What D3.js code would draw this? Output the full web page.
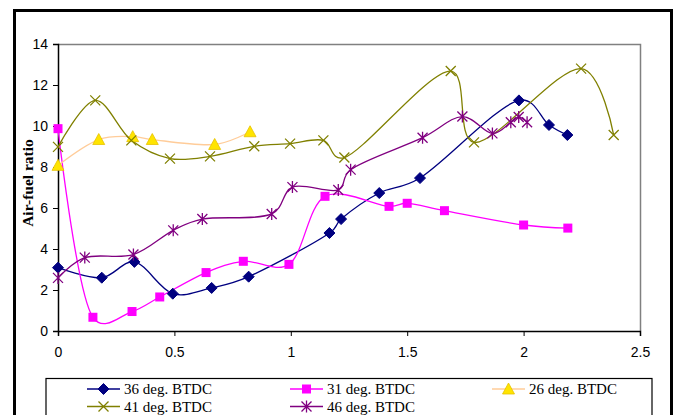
<!DOCTYPE html>
<html>
<head>
<meta charset="utf-8">
<script src="https://cdn.jsdelivr.net/npm/d3@7"></script>
<style>
  body { margin: 0; background: #fff; }
  svg { display: block; }
</style>
</head>
<body>
<div id="chart"></div>
<script>
// values
const x36 = [0, 0.188, 0.328, 0.493, 0.66, 0.819, 1.166, 1.216, 1.38, 1.555, 1.98, 2.109, 2.188];
const y36 = [3.09, 2.6, 3.37, 1.82, 2.1, 2.65, 4.78, 5.46, 6.73, 7.46, 11.25, 10.05, 9.56];

const x31 = [0, 0.15, 0.318, 0.437, 0.636, 0.796, 0.992, 1.147, 1.422, 1.5, 1.66, 2.0, 2.19];
const y31 = [9.87, 0.67, 0.95, 1.66, 2.85, 3.4, 3.25, 6.57, 6.08, 6.23, 5.87, 5.17, 5.02];

const x26 = [0, 0.175, 0.321, 0.405, 0.673, 0.825];
const y26 = [8.08, 9.34, 9.48, 9.34, 9.1, 9.72];

const x41 = [0, 0.16, 0.315, 0.481, 0.653, 0.843, 0.997, 1.14, 1.23, 1.687, 1.787, 2.247, 2.387];
const y41 = [8.98, 11.25, 9.3, 8.41, 8.52, 9.01, 9.14, 9.3, 8.46, 12.68, 9.2, 12.8, 9.56];

const x46 = [0, 0.115, 0.324, 0.495, 0.62, 0.918, 1.007, 1.204, 1.257, 1.566, 1.737, 1.866, 1.945, 1.979, 2.015];
const y46 = [2.59, 3.58, 3.73, 4.91, 5.46, 5.71, 7.02, 6.88, 7.87, 9.43, 10.46, 9.64, 10.18, 10.44, 10.18];

const xTicks = [0, 0.5, 1, 1.5, 2, 2.5];
const yTicks = [0, 2, 4, 6, 8, 10, 12, 14];

const series = [
  { name: "36 deg. BTDC", xs: x36, ys: y36, line: "#000080", marker: "diamond", fill: "#000080" },
  { name: "31 deg. BTDC", xs: x31, ys: y31, line: "#FF00FF", marker: "square", fill: "#FF00FF" },
  { name: "26 deg. BTDC", xs: x26, ys: y26, line: "#FFCC99", marker: "triangle", fill: "#FFE400" },
  { name: "41 deg. BTDC", xs: x41, ys: y41, line: "#808000", marker: "x", fill: "#808000" },
  { name: "46 deg. BTDC", xs: x46, ys: y46, line: "#800080", marker: "star", fill: "#800080" }
];

const W = 677, H = 415;
const plot = { left: 58, right: 640, top: 44, bottom: 331 };

const svg = d3.select("#chart").append("svg")
  .attr("width", W)
  .attr("height", H);

// outer chart frame
svg.append("rect")
  .attr("x", 14.5).attr("y", 10.5)
  .attr("width", 657).attr("height", 440)
  .attr("fill", "#fff")
  .attr("stroke", "#000")
  .attr("stroke-width", 3);

const x = d3.scaleLinear().domain([0, 2.5]).range([plot.left, plot.right]);
const y = d3.scaleLinear().domain([0, 14]).range([plot.bottom, plot.top]);

// plot area border (grey top/right)
svg.append("path")
  .attr("d", `M${plot.left},${plot.top + 0.5}H${plot.right + 0.5}V${plot.bottom}`)
  .attr("fill", "none")
  .attr("stroke", "#808080")
  .attr("stroke-width", 1.5);

const xAxis = svg.append("g")
  .attr("transform", `translate(0,${plot.bottom})`)
  .call(d3.axisBottom(x).tickValues(xTicks).tickFormat(d3.format("")).tickSizeOuter(0).tickSize(5).tickPadding(11));
const yAxis = svg.append("g")
  .attr("transform", `translate(${plot.left},0)`)
  .call(d3.axisLeft(y).tickValues(yTicks).tickSizeOuter(0).tickSize(5).tickPadding(5));

[xAxis, yAxis].forEach(a => {
  a.select(".domain").attr("stroke", "#000").attr("stroke-width", 1.5);
  a.selectAll(".tick line").attr("stroke", "#000");
  a.selectAll("text")
    .attr("fill", "#000")
    .style("font-family", "Arial, 'Liberation Sans', sans-serif")
    .style("font-size", "14px");
});

// y axis title
svg.append("text")
  .attr("transform", `translate(33,183) rotate(-90)`)
  .attr("text-anchor", "middle")
  .style("font-family", "'Times New Roman', 'Liberation Serif', serif")
  .style("font-weight", "bold")
  .style("font-size", "15.5px")
  .text("Air-fuel ratio");

function drawMarker(g, type, color, fill) {
  if (type === "diamond") {
    g.append("path").attr("d", "M0,-5.5L5.5,0L0,5.5L-5.5,0Z").attr("fill", fill).attr("stroke", color);
  } else if (type === "square") {
    g.append("rect").attr("x", -4.5).attr("y", -4.5).attr("width", 9).attr("height", 9).attr("fill", fill);
  } else if (type === "triangle") {
    g.append("path").attr("d", "M0,-6L6,5L-6,5Z").attr("fill", fill).attr("stroke", "#E6C200").attr("stroke-width", 0.8);
  } else if (type === "x") {
    g.append("path").attr("d", "M-5,-5L5,5M-5,5L5,-5").attr("stroke", color).attr("stroke-width", 1.3);
  } else if (type === "star") {
    g.append("path").attr("d", "M-5,-5L5,5M-5,5L5,-5M0,-6V6").attr("stroke", color).attr("stroke-width", 1.3);
  }
}

const line = d3.line()
  .x(d => x(d[0]))
  .y(d => y(d[1]))
  .curve(d3.curveCatmullRom.alpha(0.25));

const gPlot = svg.append("g");
series.forEach(s => {
  const pts = s.xs.map((v, i) => [v, s.ys[i]]);
  gPlot.append("path")
    .datum(pts)
    .attr("d", line)
    .attr("fill", "none")
    .attr("stroke", s.line)
    .attr("stroke-width", 1.3);
  s.pts = pts;
});
series.forEach(s => {
  s.pts.forEach(p => {
    const g = gPlot.append("g").attr("transform", `translate(${x(p[0])},${y(p[1])})`);
    drawMarker(g, s.marker, s.line, s.fill);
  });
});

// legend
const legend = svg.append("g");
legend.append("rect")
  .attr("x", 46).attr("y", 378.5)
  .attr("width", 606).attr("height", 60)
  .attr("fill", "#fff")
  .attr("stroke", "#000")
  .attr("stroke-width", 1.2);

const legendPos = [[87, 389], [290, 389], [492, 389], [87, 406.5], [290, 406.5]];
series.forEach((s, i) => {
  const [lx, ly] = legendPos[i];
  const g = legend.append("g").attr("transform", `translate(${lx},${ly})`);
  g.append("line").attr("x1", 0).attr("x2", 33).attr("stroke", s.line).attr("stroke-width", 1.5);
  const m = g.append("g").attr("transform", "translate(16.5,0)");
  drawMarker(m, s.marker, s.line, s.fill);
  g.append("text")
    .attr("x", 37).attr("y", 5)
    .style("font-family", "'Times New Roman', 'Liberation Serif', serif")
    .style("font-size", "15px")
    .text(s.name);
});
</script>
</body>
</html>
